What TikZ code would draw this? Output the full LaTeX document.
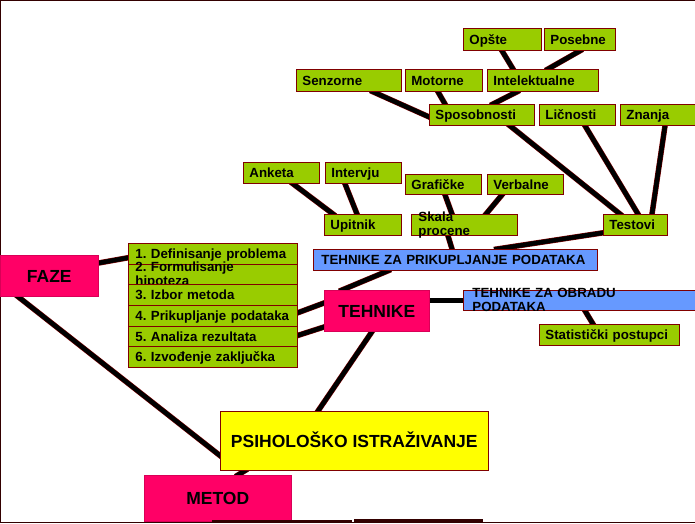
\documentclass[tikz,border=0pt]{standalone}
\usepackage{fontspec}
\setmainfont{Liberation Sans}
\usepackage{tikz}
\usetikzlibrary{calc,backgrounds}
\definecolor{psgreen}{RGB}{153,204,0}
\definecolor{psblue}{RGB}{102,153,255}
\definecolor{pspink}{RGB}{255,0,102}
\definecolor{psyellow}{RGB}{255,255,0}
\definecolor{psmaroon}{RGB}{128,0,0}
\definecolor{psframe}{RGB}{51,0,0}
\frenchspacing

\newcommand{\smallfont}{\bfseries\fontsize{13.3}{14}\selectfont}
\newcommand{\bigfont}{\bfseries\fontsize{17.5}{20}\selectfont}
\newcommand{\twolines}[2]{\smash{\begin{tabular}[c]{@{}l@{}}#1\\#2\end{tabular}}}

\tikzset{
  leaf/.style={draw=psmaroon, line width=0.8pt, fill=psgreen, anchor=north west,
    font=\smallfont, inner xsep=6pt, inner ysep=0pt, align=left,
    text height=9.5pt, text depth=0pt},
  technique/.style={leaf, fill=psblue, inner xsep=8pt},
  phase/.style={fill=pspink, draw=pspink!85!black, line width=0.6pt,
    anchor=north west, font=\bigfont, inner sep=0pt,
    text height=12.5pt, text depth=0pt},
  link/.style={line width=4.5pt, black, shorten <=-3pt, shorten >=-3pt,
    preaction={draw=psmaroon, line width=5.5pt, shorten <=-3pt, shorten >=-3pt}},
}

\begin{document}
\begin{tikzpicture}[x=1pt, y=-1pt]
\useasboundingbox (0,0) rectangle (695,523);

% frame
\draw[psframe, line width=1.2pt] (695,0.6) -- (0.6,0.6) -- (0.6,522.4) -- (695,522.4);

% --- Sposobnosti branch ---
\node[leaf, text width=66pt, minimum height=22pt] (opste) at (463,28) {Opšte};
\node[leaf, text width=59pt, minimum height=22pt] (poseb) at (544,28) {Posebne};
\node[leaf, text width=93pt, minimum height=22pt] (senz) at (296,69) {Senzorne};
\node[leaf, text width=65pt, minimum height=22pt] (motor) at (405,69) {Motorne};
\node[leaf, text width=99pt, minimum height=22pt] (intel) at (487,69) {Intelektualne};
\node[leaf, text width=93pt, minimum height=21pt] (spos) at (429,104) {Sposobnosti};
\node[leaf, text width=64pt, minimum height=21pt] (licn) at (539,104) {Ličnosti};
\node[leaf, text width=68pt, minimum height=21pt] (znanja) at (620,104) {Znanja};
\node[leaf, text width=52pt, minimum height=21pt] (test) at (603,214) {Testovi};

% --- Upitnik, skala ---
\node[leaf, text width=64pt, minimum height=21pt] (anketa) at (243,162) {Anketa};
\node[leaf, text width=64pt, minimum height=21pt] (interv) at (325,162) {Intervju};
\node[leaf, text width=64pt, minimum height=20pt] (graf) at (405,174) {Grafičke};
\node[leaf, text width=64pt, minimum height=20pt] (verb) at (487,174) {Verbalne};
\node[leaf, text width=65pt, minimum height=21pt] (upit) at (324,214) {Upitnik};
\node[leaf, text width=92pt, minimum height=21pt, inner xsep=7pt] (skala) at (411,214)
  {\twolines{Skala}{procene}};

% --- Tehnike ---
\node[technique, text width=268pt, minimum height=21pt] (prik) at (313,249)
  {TEHNIKE ZA PRIKUPLJANJE PODATAKA};
\node[technique, text width=224pt, minimum height=20pt, inner xsep=9pt] (obr) at (463,290)
  {\twolines{TEHNIKE ZA OBRADU}{PODATAKA}};
\node[leaf, text width=128pt, minimum height=21pt] (stat) at (539,324) {Statistički postupci};
\node[phase, minimum width=105pt, minimum height=41pt] (tehn) at (324,290) {TEHNIKE};

% --- Faze ---
\node[phase, minimum width=98pt, minimum height=41pt] (faze) at (0,255) {FAZE};
\foreach \txt [count=\i] in {1. Definisanje problema, {\twolines{2. Formulisanje}{hipoteza}},
    3. Izbor metoda, 4. Prikupljanje podataka, 5. Analiza rezultata, 6. Izvođenje zaključka}
  \node[leaf, text width=155pt, minimum height=20.67pt, inner xsep=7pt]
    (row\i) at (128,{243+(\i-1)*20.67}) {\txt};

% --- Istrazivanje, metod ---
\node[phase, fill=psyellow, draw=psmaroon, minimum width=268pt, minimum height=59pt]
  (psih) at (220,411) {PSIHOLOŠKO ISTRAŽIVANJE};
\node[phase, minimum width=147pt, minimum height=46pt] (metod) at (144,475) {METOD};
\fill[psframe] (212,519.5) rectangle (352,523);
\fill[psframe] (354,519) rectangle (483,523);

% connectors
\begin{pgfonlayer}{background}
\draw[link] ($(opste.south west)+(39,0)$) -- ($(intel.north west)+(26,0)$);
\draw[link] ($(poseb.south west)+(36,0)$) -- ($(intel.north west)+(61,0)$);
\draw[link] ($(senz.south west)+(77,0)$) -- ($(spos.west)+(0,2)$);
\draw[link] ($(motor.south west)+(33,0)$) -- ($(spos.north west)+(16,0)$);
\draw[link] ($(intel.south west)+(30,0)$) -- ($(spos.north west)+(64,0)$);
\draw[link] ($(spos.south west)+(81,0)$) -- ($(test.north west)+(17,0)$);
\draw[link] ($(licn.south west)+(46,0)$) -- ($(test.north west)+(35,0)$);
\draw[link] ($(znanja.south west)+(45,0)$) -- ($(test.north west)+(49,0)$);
\draw[link] ($(anketa.south west)+(50,0)$) -- ($(upit.north west)+(9,0)$);
\draw[link] ($(interv.south west)+(20,0)$) -- ($(upit.north west)+(33,0)$);
\draw[link] ($(graf.south west)+(40,0)$) -- ($(skala.north west)+(41,0)$);
\draw[link] ($(verb.south west)+(15,0)$) -- ($(skala.north west)+(75,0)$);
\draw[link] ($(skala.south west)+(37,0)$) -- ($(prik.north west)+(139,0)$);
\draw[link] ($(test.south west)+(0,-3)$) -- ($(prik.north west)+(184,0)$);
\draw[link] ($(prik.south west)+(75,0)$) -- ($(tehn.north west)+(18,0)$);
\draw[link] (obr.west -| tehn.east) -- (obr.west);
\draw[link] ($(obr.south west)+(122,0)$) -- ($(stat.north west)+(54,0)$);
\draw[link] ($(faze.north east)+(0,8)$) -- ($(row1.west)+(0,4)$);
\draw[link] ($(row4.east)+(0,-3)$) -- ($(tehn.north west)+(0,13)$);
\draw[link] ($(row5.east)+(0,-1)$) -- ($(tehn.north west)+(0,37)$);
\draw[link] ($(faze.south west)+(18,0)$) -- ($(psih.south west)+(0,-15)$);
\draw[link] ($(tehn.south west)+(48,0)$) -- ($(psih.north west)+(98,0)$);
\draw[link] ($(psih.south west)+(25,0)$) -- ($(metod.north west)+(94,0)$);
\end{pgfonlayer}

\end{tikzpicture}
\end{document}
